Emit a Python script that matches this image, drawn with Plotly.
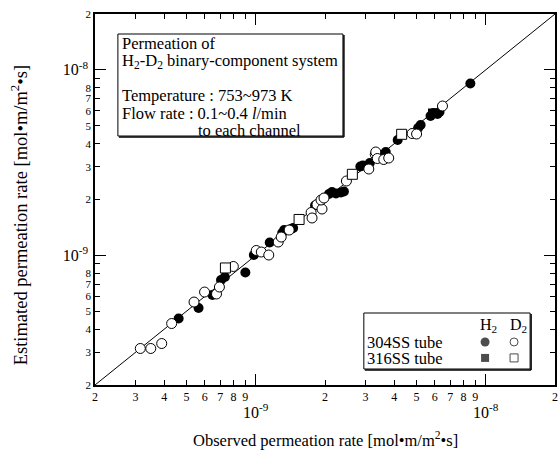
import plotly.graph_objects as go

# ---- data (values in units of 1e-9 mol·m/m2·s) ----
# 304SS tube, H2 (filled circles)
h2_304_obs = [0.462, 0.564, 0.648, 0.706, 0.734, 0.901, 0.981, 1.150, 1.303, 1.329, 1.425, 1.454,
              1.810, 2.081, 2.145, 2.232, 2.346, 2.417, 2.849, 2.921, 3.132, 3.530, 3.674, 4.140,
              5.08, 5.21, 5.753, 5.928, 6.169, 6.293, 8.57]
h2_304_est = [0.457, 0.520, 0.611, 0.736, 0.764, 0.808, 1.004, 1.173, 1.319, 1.369, 1.387, 1.404,
              1.857, 2.141, 2.195, 2.154, 2.182, 2.209, 3.012, 3.050, 3.146, 3.474, 3.606, 4.185,
              4.857, 5.04, 5.638, 5.852, 5.780, 5.925, 8.44]
# 304SS tube, D2 (open circles)
d2_304_obs = [0.3148, 0.3496, 0.390, 0.4308, 0.539, 0.599, 0.675, 0.695, 0.799, 1.005, 1.057, 1.139,
              1.252, 1.290, 1.397, 1.740, 1.757, 1.846, 1.941, 1.922, 1.980, 2.478, 3.101, 3.308,
              3.325, 3.376, 3.601, 3.785, 4.784, 5.003, 6.484]
d2_304_est = [0.3147, 0.3147, 0.3347, 0.429, 0.560, 0.634, 0.619, 0.675, 0.871, 1.062, 1.042, 1.004,
              1.180, 1.255, 1.369, 1.702, 1.590, 1.879, 1.777, 1.987, 2.037, 2.516, 2.920, 3.497,
              3.606, 3.327, 3.286, 3.347, 4.537, 4.509, 6.383]
# 316SS tube, H2 (filled squares)
h2_316_obs = [5.868]
h2_316_est = [5.852]
# 316SS tube, D2 (open squares)
d2_316_obs = [0.738, 1.543, 2.630, 4.309]
d2_316_est = [0.855, 1.561, 2.734, 4.492]

UNIT = 1e-9
AX_MIN, AX_MAX = 2e-10, 2e-8

minor_vals = [m * 1e-10 for m in range(2, 10)] + [m * 1e-9 for m in range(2, 10)] + [2e-8]
x_minor_text = [str(m) for m in range(2, 10)] + [str(m) for m in range(2, 10)] + ["2"]
y_minor_text = [("" if m == 9 else str(m)) for m in range(2, 10)] * 2 + ["2"]
major_vals = [1e-9, 1e-8]
major_text = ["10<sup>-9</sup>", "10<sup>-8</sup>"]

FONT = "Liberation Serif, Times New Roman, serif"

def scale(v):
    return [a * UNIT for a in v]

fig = go.Figure()

# diagonal y = x
fig.add_trace(go.Scatter(x=[AX_MIN, AX_MAX], y=[AX_MIN, AX_MAX], mode="lines",
                         line=dict(color="black", width=1), hoverinfo="skip", showlegend=False))

fig.add_trace(go.Scatter(x=scale(h2_304_obs), y=scale(h2_304_est), mode="markers", showlegend=False,
                         marker=dict(symbol="circle", size=10, color="black", line=dict(width=0))))
fig.add_trace(go.Scatter(x=scale(h2_316_obs), y=scale(h2_316_est), mode="markers", showlegend=False,
                         marker=dict(symbol="square", size=9, color="black", line=dict(width=0))))
fig.add_trace(go.Scatter(x=scale(d2_304_obs), y=scale(d2_304_est), mode="markers", showlegend=False,
                         marker=dict(symbol="circle", size=10, color="white", line=dict(width=1, color="black"))))
fig.add_trace(go.Scatter(x=scale(d2_316_obs), y=scale(d2_316_est), mode="markers", showlegend=False,
                         marker=dict(symbol="square", size=10, color="white", line=dict(width=1, color="black"))))

# legend markers on a hidden overlay axis pair (0..1)
fig.add_trace(go.Scatter(x=[0.848, 0.848], y=[0.116, 0.073], xaxis="x3", yaxis="y3", mode="markers",
                         showlegend=False, hoverinfo="skip",
                         marker=dict(symbol=["circle", "square"], size=[9, 8], color="black", line=dict(width=0))))
fig.add_trace(go.Scatter(x=[0.911, 0.911], y=[0.116, 0.073], xaxis="x3", yaxis="y3", mode="markers",
                         showlegend=False, hoverinfo="skip",
                         marker=dict(symbol=["circle", "square"], size=[8, 8], color="white",
                                     line=dict(width=1, color="black"))))

log_range = [-9.69897, -7.69897]
common = dict(type="log", range=log_range, showgrid=False, zeroline=False, ticks="inside",
              tickcolor="black", tickwidth=1)

fig.update_layout(
    width=559, height=454,
    margin=dict(l=95, r=2, t=14, b=69),
    paper_bgcolor="white", plot_bgcolor="white",
    font=dict(family=FONT, color="black"),
    xaxis=dict(**common, tickvals=minor_vals, ticktext=x_minor_text, ticklen=5,
               showline=True, linecolor="black", linewidth=1.5, mirror="ticks",
               tickfont=dict(family=FONT, size=12, color="black")),
    yaxis=dict(**common, tickvals=minor_vals, ticktext=y_minor_text, ticklen=5,
               showline=True, linecolor="black", linewidth=1.5, mirror="ticks",
               tickfont=dict(family=FONT, size=11, color="black")),
    xaxis2=dict(**common, overlaying="x", anchor="y", side="bottom", tickvals=major_vals,
                ticktext=major_text, ticklen=11, mirror="ticks", showline=False,
                ticklabelstandoff=16, tickfont=dict(family=FONT, size=16, color="black")),
    yaxis2=dict(**common, overlaying="y", anchor="x", side="left", tickvals=major_vals,
                ticktext=major_text, ticklen=11, mirror="ticks", showline=False,
                ticklabelstandoff=6, tickfont=dict(family=FONT, size=16, color="black")),
    xaxis3=dict(overlaying="x", anchor="y", range=[0, 1], visible=False, fixedrange=True),
    yaxis3=dict(overlaying="y", anchor="x", range=[0, 1], visible=False, fixedrange=True),
)

# dummy invisible trace so overlay axes 2 are rendered
fig.add_trace(go.Scatter(x=[AX_MIN], y=[AX_MIN], xaxis="x2", yaxis="y2", mode="markers",
                         marker=dict(size=1, opacity=0), hoverinfo="skip", showlegend=False))

# ---- text box ----
def px_x(px):
    return (px - 95) / 462.0

def px_y(py):
    return (385 - py) / 371.0

fig.add_shape(type="rect", xref="paper", yref="paper", x0=px_x(118), x1=px_x(344), y0=px_y(136), y1=px_y(34),
              line=dict(color="black", width=1), fillcolor="white")
fig.add_shape(type="line", xref="paper", yref="paper", x0=px_x(345), x1=px_x(345), y0=px_y(137), y1=px_y(35),
              line=dict(color="black", width=1.5))
fig.add_shape(type="line", xref="paper", yref="paper", x0=px_x(119), x1=px_x(345), y0=px_y(137), y1=px_y(137),
              line=dict(color="black", width=1.5))

box_lines = [
    ("Permeation of", 120, 43),
    ("H<sub>2</sub>-D<sub>2</sub> binary-component system", 120, 61),
    ("Temperature : 753~973 K", 120, 96),
    ("Flow rate : 0.1~0.4 <i>l</i>/min", 120, 113),
    ("to each channel", 196, 130),
]
for txt, x, y in box_lines:
    fig.add_annotation(text=txt, xref="paper", yref="paper", x=px_x(x), y=px_y(y), xanchor="left",
                       yanchor="middle", showarrow=False, font=dict(family=FONT, size=16.5, color="black"))

# ---- legend box ----
fig.add_shape(type="rect", xref="paper", yref="paper", x0=px_x(365), x1=px_x(532), y0=px_y(369), y1=px_y(313),
              line=dict(color="black", width=1), fillcolor="white", layer="below")
fig.add_shape(type="line", xref="paper", yref="paper", x0=px_x(533), x1=px_x(533), y0=px_y(370), y1=px_y(314),
              line=dict(color="black", width=1.5))
fig.add_shape(type="line", xref="paper", yref="paper", x0=px_x(366), x1=px_x(533), y0=px_y(370), y1=px_y(370),
              line=dict(color="black", width=1.5))
for txt, x, y in [("H<sub>2</sub>", 490, 325), ("D<sub>2</sub>", 520, 325)]:
    fig.add_annotation(text=txt, xref="paper", yref="paper", x=px_x(x), y=px_y(y), xanchor="center",
                       yanchor="middle", showarrow=False, font=dict(family=FONT, size=16, color="black"))
for txt, y in [("304SS tube", 342), ("316SS tube", 358)]:
    fig.add_annotation(text=txt, xref="paper", yref="paper", x=px_x(366), y=px_y(y), xanchor="left",
                       yanchor="middle", showarrow=False, font=dict(family=FONT, size=16.5, color="black"))

# ---- axis titles ----
fig.add_annotation(text="Observed permeation rate [mol•m/m<sup>2</sup>•s]", xref="paper", yref="paper",
                   x=px_x(327), y=px_y(439), xanchor="center", yanchor="middle", showarrow=False,
                   font=dict(family=FONT, size=16.5, color="black"))
fig.add_annotation(text="Estimated permeation rate [mol•m/m<sup>2</sup>•s]", xref="paper", yref="paper",
                   x=px_x(19), y=px_y(215), xanchor="center", yanchor="middle", textangle=-90, showarrow=False,
                   font=dict(family=FONT, size=18.5, color="black"))

fig.write_html("out.html")
